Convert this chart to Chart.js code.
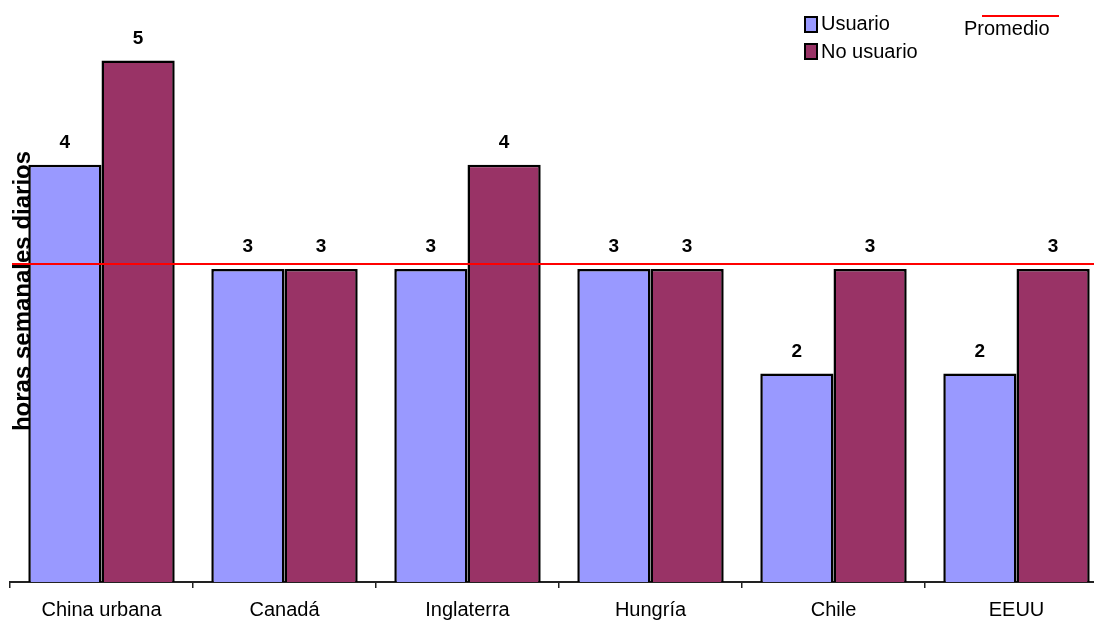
<!DOCTYPE html>
<html>
<head>
<meta charset="utf-8">
<script src="https://cdn.jsdelivr.net/npm/chart.js@4/dist/chart.umd.min.js"></script>
<style>
  html, body { margin: 0; padding: 0; background: #fff; overflow: hidden; }
  #wrap { position: relative; width: 1108px; height: 621px; }
  .leg { position: absolute; font-family: "Liberation Sans", Arial, sans-serif; font-size: 20px; color: #000; line-height: 20px; white-space: nowrap; }
  .sw { position: absolute; width: 10px; height: 13px; border: 2px solid #000; }
</style>
</head>
<body>
<div id="wrap">
  <canvas id="myChart" width="1108" height="621"></canvas>
  <div class="sw" style="left:804px;top:16px;background:#9999FF"></div>
  <div class="leg" style="left:821px;top:13px">Usuario</div>
  <div class="sw" style="left:804px;top:43px;background:#993366"></div>
  <div class="leg" style="left:821px;top:41px">No usuario</div>
  <div style="position:absolute;left:982px;top:15px;width:77px;height:2px;background:#FF0000"></div>
  <div class="leg" style="left:964px;top:18px">Promedio</div>
</div>
<script>
const categories = ["China urbana", "Canadá", "Inglaterra", "Hungría", "Chile", "EEUU"];
const usuario = [4, 3, 3, 3, 2, 2];
const noUsuario = [5, 3, 4, 3, 3, 3];
const promedio = 3.05;

// numbers on top of the bars
const barLabels = {
  id: 'barLabels',
  afterDatasetsDraw(chart) {
    const ctx = chart.ctx;
    ctx.save();
    ctx.font = 'bold 19px "Liberation Sans", Arial, sans-serif';
    ctx.fillStyle = '#000';
    ctx.textAlign = 'center';
    ctx.textBaseline = 'middle';
    chart.data.datasets.forEach((ds, i) => {
      chart.getDatasetMeta(i).data.forEach((bar, j) => {
        ctx.fillText(String(ds.data[j]), bar.x, bar.y - 22);
      });
    });
    ctx.restore();
  }
};

// red average line
const avgLine = {
  id: 'avgLine',
  afterDraw(chart) {
    const ctx = chart.ctx;
    const y = chart.scales.y.getPixelForValue(promedio);
    ctx.save();
    ctx.strokeStyle = '#FF0000';
    ctx.lineWidth = 2;
    ctx.beginPath();
    ctx.moveTo(chart.chartArea.left + 2, y);
    ctx.lineTo(chart.chartArea.right, y);
    ctx.stroke();
    ctx.restore();
  }
};

const data = {
  labels: categories,
  datasets: [
    {
      label: 'Usuario',
      data: usuario,
      backgroundColor: '#9999FF',
      borderColor: '#000',
      borderWidth: 2.5,
      categoryPercentage: 0.8,
      barPercentage: 1.0
    },
    {
      label: 'No usuario',
      data: noUsuario,
      backgroundColor: '#993366',
      borderColor: '#000',
      borderWidth: 2.5,
      categoryPercentage: 0.8,
      barPercentage: 1.0
    }
  ]
};

new Chart(document.getElementById('myChart'), {
  type: 'bar',
  data,
  plugins: [barLabels, avgLine],
  options: {
    responsive: false,
    animation: false,
    devicePixelRatio: 1,
    layout: { padding: 0 },
    plugins: {
      legend: { display: false },
      tooltip: { enabled: false }
    },
    scales: {
      x: {
        offset: true,
        grid: { offset: true, drawOnChartArea: false, drawTicks: true, tickLength: 6, color: '#222', lineWidth: 1.5 },
        border: { display: true, color: '#222', width: 2 },
        ticks: { color: '#000', padding: 10, font: { family: '"Liberation Sans", Arial, sans-serif', size: 20 } },
        afterFit(scale) { scale.height = 39; }
      },
      y: {
        min: 0,
        max: 5.58,
        z: 1,
        grid: { display: false },
        border: { display: false },
        ticks: { display: false },
        title: {
          display: true,
          text: 'horas semanales diarios',
          color: '#000',
          padding: { top: 9, bottom: 0 },
          font: { family: '"Liberation Sans", Arial, sans-serif', size: 24, weight: 'bold' }
        },
        afterFit(scale) { scale.width = 10; }
      }
    }
  }
});
</script>
</body>
</html>
